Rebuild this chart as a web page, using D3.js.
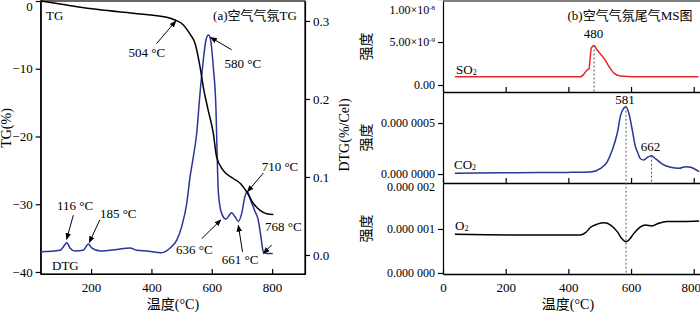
<!DOCTYPE html>
<html>
<head>
<meta charset="utf-8">
<script src="https://cdn.jsdelivr.net/npm/d3@7"></script>
<style>
body { margin: 0; background: #fff; }
text { font-family: "Liberation Serif", "Times New Roman", serif; fill: #000; }
.cjk { font-family: "Liberation Serif", "Noto Sans CJK SC", serif; }
</style>
</head>
<body>
<div id="chart"></div>
<script>
// ---- data ----
// (a) TG curve
var tgTemp = [33, 119, 230, 339, 451, 478, 505, 528, 545, 561, 572, 588, 605, 616, 638, 671, 694, 716, 738, 760, 782, 804];
var tgVal = [0, -0.6, -1.3, -1.8, -2.4, -2.8, -3.5, -4.9, -6.3, -9.7, -12.7, -16.1, -19.5, -23, -25, -26.2, -26.9, -28.2, -29.9, -30.9, -31.4, -31.5];

// (a) DTG curve
var dtgTemp = [33, 97, 113, 119, 130, 147, 174, 191, 202, 230, 285, 329, 351, 384, 434, 462, 484, 500, 517, 528, 539, 550, 561, 572, 581, 589, 596, 605, 614, 617, 622, 633, 647, 666, 677, 688, 699, 710, 718, 729, 743, 754, 763, 771, 782, 802];
var dtgVal = [0.004, 0.006, 0.013, 0.016, 0.009, 0.005, 0.006, 0.014, 0.009, 0.005, 0.007, 0.009, 0.006, 0.005, 0.003, 0.009, 0.019, 0.036, 0.066, 0.100, 0.126, 0.156, 0.207, 0.250, 0.276, 0.282, 0.276, 0.241, 0.186, 0.140, 0.079, 0.053, 0.046, 0.054, 0.049, 0.043, 0.053, 0.075, 0.081, 0.070, 0.056, 0.045, 0.023, 0.004, 0.002, 0.002];

// (a) annotations: label, text position, arrow start, arrow end (temp, DTG units)
var annLabel = ["504 °C", "580 °C", "116 °C", "185 °C", "636 °C", "661 °C", "710 °C", "768 °C"];
var annText = [[385, 0.259], [703, 0.246], [147, 0.063], [290, 0.053], [542, 0.007], [694, -0.006], [826, 0.114], [837, 0.037]];
var annFrom = [[417, 0.271], [666, 0.263], [141, 0.051], [229, 0.045], [567, 0.021], [702, 0.004], [771, 0.105], [799, 0.013]];
var annTo = [[481, 0.300], [596, 0.279], [119, 0.020], [194, 0.016], [630, 0.045], [688, 0.038], [718, 0.081], [771, 0.002]];

// (a) ticks
var tempTicksA = [200, 400, 600, 800];
var tgTicks = [0, -10, -20, -30, -40];
var dtgTicks = [0.0, 0.1, 0.2, 0.3];

// (b) SO2
var so2Temp = [38, 439, 450, 461, 466, 469, 473, 482, 492, 503, 514, 530, 546, 567, 610, 815];
var so2Val = [0.97e-9, 0.97e-9, 1.28e-9, 1.8e-9, 1.9e-9, 2.9e-9, 4.3e-9, 4.6e-9, 4.07e-9, 3.57e-9, 3.1e-9, 2.13e-9, 1.36e-9, 1.05e-9, 0.97e-9, 0.97e-9];
// (b) CO2
var co2Temp = [38, 237, 397, 471, 503, 524, 540, 556, 567, 578, 584, 593, 604, 614, 620, 630, 641, 652, 665, 678, 700, 726, 753, 774, 790, 817];
var co2Val = [0.07e-7, 0.13e-7, 0.16e-7, 0.2e-7, 0.56e-7, 1.2e-7, 2.35e-7, 4.0e-7, 5.8e-7, 6.5e-7, 6.6e-7, 5.95e-7, 4.3e-7, 2.67e-7, 2.2e-7, 1.5e-7, 1.37e-7, 1.63e-7, 1.8e-7, 1.5e-7, 0.98e-7, 0.66e-7, 0.56e-7, 0.72e-7, 0.66e-7, 0.23e-7];
// (b) O2
var o2Temp = [38, 237, 439, 455, 471, 492, 514, 535, 556, 572, 584, 593, 609, 630, 646, 667, 688, 714, 768, 817];
var o2Val = [0.88e-6, 0.864e-6, 0.864e-6, 0.916e-6, 1.04e-6, 1.11e-6, 1.14e-6, 1.09e-6, 0.94e-6, 0.77e-6, 0.71e-6, 0.75e-6, 0.9e-6, 1.05e-6, 1.09e-6, 1.07e-6, 1.13e-6, 1.17e-6, 1.17e-6, 1.18e-6];

var tempTicksB = [0, 200, 400, 600, 800];
var so2Ticks = [0, 5e-9, 1e-8];
var so2TickLabels = [["0.00", ""], ["5.00×10", "-9"], ["1.00×10", "-8"]];
var co2Ticks = [0, 5e-7];
var co2TickLabels = ["0.000 0000", "0.000 0005"];
var o2Ticks = [0, 1e-6, 2e-6];
var o2TickLabels = ["0.000 000", "0.000 001", "0.000 002"];

// ---- svg ----
var svg = d3.select("#chart")
    .append("svg")
    .attr("width", 700)
    .attr("height", 312);

var defs = svg.append("defs");
defs.append("marker")
    .attr("id", "arrow")
    .attr("viewBox", "0 0 10 10")
    .attr("refX", 9).attr("refY", 5)
    .attr("markerWidth", 7).attr("markerHeight", 7)
    .attr("orient", "auto")
    .append("path")
    .attr("d", "M0,1 L10,5 L0,9 Z")
    .attr("fill", "#000");

function styleAxis(g) {
    g.selectAll("path, line").attr("stroke", "#000").attr("stroke-width", 1.2);
    g.selectAll("text").attr("font-size", 13);
}

// ====== Chart (a) ======
var xA = d3.scaleLinear().domain([33, 909]).range([40.7, 305]);
var yTG = d3.scaleLinear().domain([-40.3, 0]).range([274, 1]);
var yDTG = d3.scaleLinear().domain([-0.0244, 0.3256]).range([274, 1]);

// bottom axis (ticks inward)
svg.append("g")
    .attr("transform", "translate(0,274)")
    .call(d3.axisBottom(xA).tickValues(tempTicksA).tickSizeInner(-5).tickSizeOuter(0).tickPadding(9))
    .call(styleAxis);

// left axis
var tgAxis = svg.append("g")
    .attr("transform", "translate(40.7,0)")
    .call(d3.axisLeft(yTG).tickValues(tgTicks).tickSize(5).tickSizeOuter(0).tickFormat(d3.format("d")))
    .call(styleAxis);
// top label sits a little lower, as in the picture
tgAxis.selectAll(".tick text").filter(function (d) { return d == 0; }).attr("y", 5);

// right axis
svg.append("g")
    .attr("transform", "translate(305,0)")
    .call(d3.axisRight(yDTG).tickValues(dtgTicks).tickSize(5).tickSizeOuter(0).tickFormat(d3.format(".1f")))
    .call(styleAxis);

// frame
svg.append("rect")
    .attr("x", 40.7).attr("y", 1)
    .attr("width", 305 - 40.7).attr("height", 273)
    .attr("fill", "none").attr("stroke", "#000").attr("stroke-width", 1.2);

// DTG line
svg.append("path")
    .datum(d3.range(dtgTemp.length))
    .attr("fill", "none")
    .attr("stroke", "#2a3595")
    .attr("stroke-width", 1.5)
    .attr("d", d3.line()
        .x(function (i) { return xA(dtgTemp[i]); })
        .y(function (i) { return yDTG(dtgVal[i]); })
        .curve(d3.curveMonotoneX));

// TG line
svg.append("path")
    .datum(d3.range(tgTemp.length))
    .attr("fill", "none")
    .attr("stroke", "#000")
    .attr("stroke-width", 1.5)
    .attr("d", d3.line()
        .x(function (i) { return xA(tgTemp[i]); })
        .y(function (i) { return yTG(tgVal[i]); })
        .curve(d3.curveMonotoneX));

// annotations
annLabel.forEach(function (lab, i) {
    svg.append("line")
        .attr("x1", xA(annFrom[i][0])).attr("y1", yDTG(annFrom[i][1]))
        .attr("x2", xA(annTo[i][0])).attr("y2", yDTG(annTo[i][1]))
        .attr("stroke", "#000").attr("stroke-width", 1)
        .attr("marker-end", "url(#arrow)");
    svg.append("text")
        .attr("x", xA(annText[i][0])).attr("y", yDTG(annText[i][1]))
        .attr("dy", "0.35em")
        .attr("text-anchor", "middle")
        .attr("font-size", 13)
        .text(lab);
});

svg.append("text").attr("x", 46).attr("y", 20).attr("font-size", 13).text("TG");
svg.append("text").attr("x", 52).attr("y", 270).attr("font-size", 13).text("DTG");
svg.append("text").attr("class", "cjk").attr("x", 255).attr("y", 20)
    .attr("text-anchor", "middle").attr("font-size", 13).text("(a)空气气氛TG");

svg.append("text").attr("transform", "translate(11,128) rotate(-90)")
    .attr("text-anchor", "middle").attr("font-size", 14).text("TG(%)");
svg.append("text").attr("transform", "translate(349,135) rotate(-90)")
    .attr("text-anchor", "middle").attr("font-size", 14).text("DTG(%/Cel)");
svg.append("text").attr("class", "cjk").attr("x", 173).attr("y", 309)
    .attr("text-anchor", "middle").attr("font-size", 14).text("温度(°C)");

// ====== Chart (b) ======
var xB = d3.scaleLinear().domain([0, 820]).range([443, 700]);

var panels = [
    { name: "SO2", temp: so2Temp, val: so2Val, color: "#e8242c", top: 1, bottom: 92, domain: [-0.81e-9, 9.77e-9], ticks: so2Ticks },
    { name: "CO2", temp: co2Temp, val: co2Val, color: "#2a3595", top: 92, bottom: 183, domain: [-0.88e-7, 8.04e-7], ticks: co2Ticks },
    { name: "O2", temp: o2Temp, val: o2Val, color: "#000", top: 183, bottom: 274, domain: [-0.023e-6, 2.045e-6], ticks: o2Ticks }
];

panels.forEach(function (p, k) {
    p.y = d3.scaleLinear().domain(p.domain).range([p.bottom, p.top]);

    // x ticks inward at panel bottom
    var xg = svg.append("g")
        .attr("transform", "translate(0," + p.bottom + ")")
        .call(d3.axisBottom(xB).tickValues(tempTicksB).tickSizeInner(-5).tickSizeOuter(0).tickPadding(9))
        .call(styleAxis);
    if (k < 2) xg.selectAll("text").remove();
    else xg.selectAll(".tick text").filter(function (d) { return d == 800; }).attr("x", -3);
    xg.select(".domain").attr("stroke-width", 1.6);

    var yg = svg.append("g")
        .attr("transform", "translate(443,0)")
        .call(d3.axisLeft(p.y).tickValues(p.ticks).tickSize(5).tickSizeOuter(0))
        .call(styleAxis);
    yg.selectAll("text").attr("font-size", 12);

    if (p.name == "SO2") {
        yg.selectAll(".tick text").each(function (d, i) {
            var t = d3.select(this).text(so2TickLabels[i][0]);
            if (so2TickLabels[i][1]) {
                t.append("tspan").attr("font-size", 7).attr("dy", "-0.6em").text(so2TickLabels[i][1]);
            }
            if (i == 2) t.attr("y", 11);
        });
    } else if (p.name == "CO2") {
        yg.selectAll(".tick text").text(function (d, i) { return co2TickLabels[i]; });
    } else {
        yg.selectAll(".tick text").text(function (d, i) { return o2TickLabels[i]; });
        yg.selectAll(".tick").filter(function (d) { return d == 2e-6; }).select("line").remove();
        yg.selectAll(".tick text").filter(function (d) { return d == 2e-6; }).attr("y", 2);
    }

    svg.append("path")
        .datum(d3.range(p.temp.length))
        .attr("fill", "none")
        .attr("stroke", p.color)
        .attr("stroke-width", 1.5)
        .attr("d", d3.line()
            .x(function (i) { return xB(p.temp[i]); })
            .y(function (i) { return p.y(p.val[i]); })
            .curve(d3.curveMonotoneX));

    svg.append("text").attr("class", "cjk")
        .attr("transform", "translate(371," + ((p.top + p.bottom) / 2) + ") rotate(-90)")
        .attr("text-anchor", "middle").attr("font-size", 14).text("强度");
});

// top line of the right frame
svg.append("line").attr("x1", 443).attr("x2", 700).attr("y1", 1).attr("y2", 1)
    .attr("stroke", "#000").attr("stroke-width", 1.2);

// gas names with subscripts
var gasLabels = [["SO", "2", 456, 74], ["CO", "2", 454, 169], ["O", "2", 455, 230]];
gasLabels.forEach(function (g) {
    var t = svg.append("text").attr("x", g[2]).attr("y", g[3]).attr("font-size", 13).text(g[0]);
    t.append("tspan").attr("font-size", 8).attr("dy", "0.1em").text(g[1]);
});

// dashed peak markers
var so2Peak = 482, co2Peak = 584, co2Peak2 = 665;
svg.append("line")
    .attr("x1", xB(so2Peak)).attr("x2", xB(so2Peak))
    .attr("y1", panels[0].y(4.6e-9)).attr("y2", 92)
    .attr("stroke", "#555").attr("stroke-width", 1).attr("stroke-dasharray", "2,2");
svg.append("line")
    .attr("x1", xB(co2Peak)).attr("x2", xB(co2Peak))
    .attr("y1", panels[1].y(6.6e-7)).attr("y2", 274)
    .attr("stroke", "#555").attr("stroke-width", 1).attr("stroke-dasharray", "2,2");
svg.append("line")
    .attr("x1", xB(co2Peak2)).attr("x2", xB(co2Peak2))
    .attr("y1", panels[1].y(1.8e-7)).attr("y2", 183)
    .attr("stroke", "#555").attr("stroke-width", 1).attr("stroke-dasharray", "2,2");

svg.append("text").attr("x", xB(480)).attr("y", panels[0].y(4.6e-9) - 7)
    .attr("text-anchor", "middle").attr("font-size", 13).text("480");
svg.append("text").attr("x", xB(581)).attr("y", panels[1].y(6.6e-7) - 3)
    .attr("text-anchor", "middle").attr("font-size", 13).text("581");
svg.append("text").attr("x", xB(662)).attr("y", panels[1].y(1.8e-7) - 5)
    .attr("text-anchor", "middle").attr("font-size", 13).text("662");

svg.append("text").attr("class", "cjk").attr("x", 630).attr("y", 20)
    .attr("text-anchor", "middle").attr("font-size", 13).text("(b)空气气氛尾气MS图");
svg.append("text").attr("class", "cjk").attr("x", 568).attr("y", 309)
    .attr("text-anchor", "middle").attr("font-size", 14).text("温度(°C)");
</script>
</body>
</html>
